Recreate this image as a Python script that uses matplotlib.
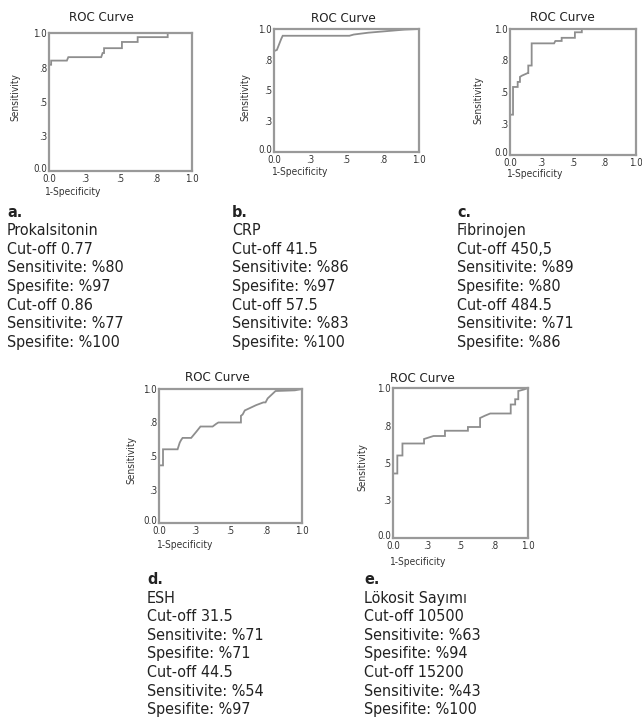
import matplotlib
matplotlib.use('Agg')
import matplotlib.pyplot as plt
from matplotlib import font_manager
from matplotlib.transforms import ScaledTranslation

# the scan uses a condensed Helvetica; take a narrow face if one is installed
narrow = None
for f in font_manager.fontManager.ttflist:
    if f.weight in (400, 'normal', 'regular') and f.style == 'normal' and (
            f.stretch in ('condensed', 'semi-condensed') or 'Narrow' in f.name or 'Condensed' in f.name):
        narrow = f
        break

if narrow is not None:
    plt.rcParams['font.family'] = [narrow.name, 'DejaVu Sans']
    plt.rcParams['font.stretch'] = narrow.stretch
    fs_title, fs_lab, fs_tick, fs_block = 9.5, 7.3, 7, 11.5
else:
    plt.rcParams['font.family'] = ['Liberation Sans', 'DejaVu Sans']
    fs_title, fs_lab, fs_tick, fs_block = 9.5, 7.5, 7.5, 11.5

# axis ticks (SPSS prints .25 as .3 and .75 as .8)
tick_vals = [0.0, 0.25, 0.5, 0.75, 1.0]
tick_labels = ['0.0', '.3', '.5', '.8', '1.0']

# a. Prokalsitonin
a_fpr = [0, 0, 0.015, 0.015, 0.125, 0.135, 0.365, 0.375, 0.385, 0.385, 0.51, 0.51, 0.62, 0.62, 0.83, 0.83, 1.0]
a_tpr = [0, 0.77, 0.77, 0.80, 0.80, 0.825, 0.825, 0.855, 0.855, 0.89, 0.89, 0.935, 0.935, 0.97, 0.97, 1.0, 1.0]
a_text = ['a.', 'Prokalsitonin', 'Cut-off 0.77', 'Sensitivite: %80', 'Spesifite: %97',
          'Cut-off 0.86', 'Sensitivite: %77', 'Spesifite: %100']

# b. CRP
b_fpr = [0, 0, 0.02, 0.03, 0.05, 0.06, 0.52, 0.55, 0.65, 0.75, 0.9, 1.0]
b_tpr = [0, 0.82, 0.83, 0.86, 0.92, 0.945, 0.945, 0.955, 0.97, 0.98, 0.995, 1.0]
b_text = ['b.', 'CRP', 'Cut-off 41.5', 'Sensitivite: %86', 'Spesifite: %97',
          'Cut-off 57.5', 'Sensitivite: %83', 'Spesifite: %100']

# c. Fibrinojen
c_fpr = [0, 0, 0.024, 0.024, 0.061, 0.061, 0.079, 0.079, 0.095, 0.14, 0.145, 0.145, 0.172, 0.172,
         0.35, 0.36, 0.41, 0.41, 0.515, 0.515, 0.57, 0.57, 1.0]
c_tpr = [0, 0.32, 0.32, 0.54, 0.54, 0.58, 0.58, 0.62, 0.63, 0.65, 0.65, 0.71, 0.71, 0.886,
         0.886, 0.905, 0.905, 0.93, 0.93, 0.974, 0.974, 1.0, 1.0]
c_text = ['c.', 'Fibrinojen', 'Cut-off 450,5', 'Sensitivite: %89', 'Spesifite: %80',
          'Cut-off 484.5', 'Sensitivite: %71', 'Spesifite: %86']

# d. ESH
d_fpr = [0, 0, 0.028, 0.028, 0.13, 0.145, 0.155, 0.165, 0.225, 0.26, 0.29, 0.375, 0.4, 0.415,
         0.573, 0.573, 0.585, 0.6, 0.64, 0.68, 0.73, 0.745, 0.76, 0.78, 0.815, 0.95, 1.0]
d_tpr = [0, 0.43, 0.43, 0.55, 0.55, 0.60, 0.62, 0.635, 0.635, 0.68, 0.72, 0.72, 0.74, 0.75,
         0.75, 0.80, 0.81, 0.84, 0.86, 0.88, 0.90, 0.90, 0.93, 0.95, 0.985, 0.99, 1.0]
d_text = ['d.', 'ESH', 'Cut-off 31.5', 'Sensitivite: %71', 'Spesifite: %71',
          'Cut-off 44.5', 'Sensitivite: %54', 'Spesifite: %97']

# e. Lökosit Sayımı
e_fpr = [0, 0, 0.032, 0.032, 0.07, 0.07, 0.23, 0.23, 0.3, 0.385, 0.385, 0.555, 0.555, 0.645, 0.645,
         0.68, 0.72, 0.872, 0.872, 0.905, 0.905, 0.928, 0.928, 0.97, 1.0]
e_tpr = [0, 0.43, 0.43, 0.55, 0.55, 0.63, 0.63, 0.66, 0.68, 0.68, 0.715, 0.715, 0.74, 0.74, 0.80,
         0.815, 0.83, 0.83, 0.89, 0.89, 0.925, 0.925, 0.98, 0.99, 1.0]
e_text = ['e.', 'Lökosit Sayımı', 'Cut-off 10500', 'Sensitivite: %63', 'Spesifite: %94',
          'Cut-off 15200', 'Sensitivite: %43', 'Spesifite: %100']

W, H = 642, 726
fig = plt.figure(figsize=(W / 100, H / 100), dpi=100)
fig.patch.set_facecolor('white')

def ftext(x, y, s, **kw):
    # place text using pixel coords from the top-left corner
    return fig.text(x / W, 1 - y / H, s, **kw)

# layout: axes box (l, r, t, b), title centre/baseline, xlabel left/baseline, ylabel centre, text block start
panels = [
    (a_fpr, a_tpr, a_text, (49, 192, 33, 171), (101, 20.7), (45, 195), (15, 97), (7, 216.7)),
    (b_fpr, b_tpr, b_text, (274, 419, 29, 152), (343, 21.7), (271.7, 175), (245, 97), (232, 216.7)),
    (c_fpr, c_tpr, c_text, (510, 636, 29, 155), (562, 20.7), (506.7, 176.7), (478, 100), (457, 216.7)),
    (d_fpr, d_tpr, d_text, (159, 302, 389, 523), (217, 380.7), (156.7, 548), (131, 460), (147, 584)),
    (e_fpr, e_tpr, e_text, (393, 528, 388, 538), (422, 381.7), (390, 565), (362, 467), (364, 584)),
]

line_gray = '#8e8e8e'
txt = '#222222'
# small upward nudge for the "0.0" on the y axis so it clears the x one
nudge = ScaledTranslation(0, 2.5 / 72, fig.dpi_scale_trans)

for fpr, tpr, block, box, ttl, xl, yl, blk in panels:
    l, r, t, b = box
    ax = fig.add_axes([l / W, 1 - b / H, (r - l) / W, (b - t) / H])
    ax.plot(fpr, tpr, color=line_gray, lw=1.3, solid_joinstyle='miter')
    ax.set_xlim(0, 1)
    ax.set_ylim(0, 1)
    ax.set_xticks(tick_vals, tick_labels)
    ax.set_yticks(tick_vals, tick_labels)
    ax.tick_params(length=0, labelsize=fs_tick, labelcolor='#333333')
    ax.tick_params(axis='x', pad=2)
    ax.tick_params(axis='y', pad=1.5)
    ylabs = ax.get_yticklabels()
    ylabs[0].set_transform(ylabs[0].get_transform() + nudge)
    for sp in ax.spines.values():
        sp.set_color('#999999')
        sp.set_linewidth(1.6)

    ftext(ttl[0], ttl[1], 'ROC Curve', ha='center', va='baseline', fontsize=fs_title, color=txt)
    ftext(xl[0], xl[1], '1-Specificity', ha='left', va='baseline', fontsize=fs_lab, color='#333333')
    ftext(yl[0], yl[1], 'Sensitivity', ha='center', va='center', rotation=90, fontsize=fs_lab, color='#333333')

    for i, s in enumerate(block):
        ftext(blk[0], blk[1] + i * 18.6, s, ha='left', va='baseline', fontsize=fs_block, color=txt,
              fontweight='bold' if i == 0 else 'normal')

fig.savefig('out.png', dpi=100, facecolor='white')
